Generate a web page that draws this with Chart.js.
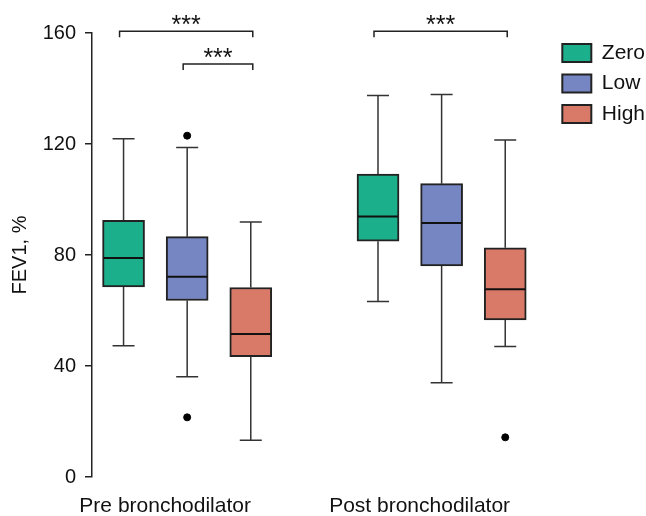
<!DOCTYPE html>
<html>
<head>
<meta charset="utf-8">
<script src="https://cdn.jsdelivr.net/npm/chart.js@4.4.1/dist/chart.umd.min.js"></script>
<style>
  html, body { margin: 0; padding: 0; background: #fff; }
  #wrap { width: 646px; height: 516px; }
</style>
</head>
<body>
<div id="wrap"><canvas id="myChart"></canvas></div>
<script>
const groups = ['Pre bronchodilator', 'Post bronchodilator'];
const levels = ['Zero', 'Low', 'High'];
const colors = ['#1caf8b', '#7686c3', '#d97968'];

// rows = levels (Zero, Low, High), columns = groups (Pre, Post)
const whiskerMin = [[47.3, 63.2], [36.1, 34.0], [13.2, 47.0]];
const quartile1  = [[68.5, 85.0], [63.6, 76.1], [43.4, 56.6]];
const medians    = [[78.9, 93.9], [72.2, 91.5], [51.5, 67.7]];
const quartile3  = [[92.5, 109.2], [86.6, 105.7], [68.3, 82.6]];
const whiskerMax = [[121.9, 137.5], [118.7, 137.8], [91.9, 121.4]];

// outliers: group index + value, per level
const outlierGroup = [[], [0, 0], [1]];
const outlierValue = [[], [123.0, 21.5], [14.3]];

// significance brackets
const sigGroup = [0, 0, 1];
const sigFrom = [0, 1, 0];
const sigTo = [2, 2, 2];
const sigHeight = [160.6, 148.8, 160.6];
const sigLabel = ['***', '***', '***'];

function xPos(g, l) {
    return g + 1 + (l - 1) * 0.25;
}

let datasets = levels.map(function(lev, l) {
    return {
        type: 'bar',
        label: lev,
        data: groups.map((grp, g) => ({ x: xPos(g, l), y: [quartile1[l][g], quartile3[l][g]] })),
        backgroundColor: colors[l],
        borderColor: '#222',
        borderWidth: 2,
        borderSkipped: false,
        barThickness: 42,
        grouped: false
    };
});

let outlierPoints = [];
levels.forEach(function(lev, l) {
    outlierGroup[l].forEach(function(g, i) {
        outlierPoints.push({ x: xPos(g, l), y: outlierValue[l][i] });
    });
});
datasets.push({
    type: 'scatter',
    label: 'outliers',
    data: outlierPoints,
    backgroundColor: '#000',
    borderColor: '#000',
    pointRadius: 3.5
});

// whiskers, caps and medians drawn on the library's scales
const boxParts = {
    id: 'boxParts',
    beforeDatasetsDraw(chart) {
        const { ctx, scales: { x, y } } = chart;
        ctx.save();
        ctx.strokeStyle = '#333';
        ctx.lineWidth = 1.5;
        levels.forEach(function(lev, l) {
            groups.forEach(function(grp, g) {
                const cx = x.getPixelForValue(xPos(g, l));
                const capHalf = 11;
                ctx.beginPath();
                ctx.moveTo(cx, y.getPixelForValue(whiskerMax[l][g]));
                ctx.lineTo(cx, y.getPixelForValue(quartile3[l][g]));
                ctx.moveTo(cx, y.getPixelForValue(whiskerMin[l][g]));
                ctx.lineTo(cx, y.getPixelForValue(quartile1[l][g]));
                ctx.moveTo(cx - capHalf, y.getPixelForValue(whiskerMax[l][g]));
                ctx.lineTo(cx + capHalf, y.getPixelForValue(whiskerMax[l][g]));
                ctx.moveTo(cx - capHalf, y.getPixelForValue(whiskerMin[l][g]));
                ctx.lineTo(cx + capHalf, y.getPixelForValue(whiskerMin[l][g]));
                ctx.stroke();
            });
        });
        ctx.restore();
    },
    afterDatasetsDraw(chart) {
        const { ctx, scales: { x, y } } = chart;
        ctx.save();
        ctx.strokeStyle = '#111';
        ctx.lineWidth = 2;
        levels.forEach(function(lev, l) {
            const meta = chart.getDatasetMeta(l);
            groups.forEach(function(grp, g) {
                const bar = meta.data[g];
                const half = bar.width / 2 - 1;
                const my = y.getPixelForValue(medians[l][g]);
                ctx.beginPath();
                ctx.moveTo(bar.x - half, my);
                ctx.lineTo(bar.x + half, my);
                ctx.stroke();
            });
        });
        ctx.restore();
    },
    afterDraw(chart) {
        const { ctx, scales: { x, y } } = chart;
        ctx.save();
        ctx.strokeStyle = '#222';
        ctx.lineWidth = 1.5;
        ctx.fillStyle = '#111';
        ctx.font = '25px "Liberation Sans", Arial, sans-serif';
        ctx.textAlign = 'center';
        ctx.textBaseline = 'alphabetic';
        sigGroup.forEach(function(g, i) {
            const x1 = x.getPixelForValue(xPos(g, sigFrom[i])) - 4;
            const x2 = x.getPixelForValue(xPos(g, sigTo[i])) + 2;
            const by = y.getPixelForValue(sigHeight[i]);
            ctx.beginPath();
            ctx.moveTo(x1, by + 6);
            ctx.lineTo(x1, by);
            ctx.lineTo(x2, by);
            ctx.lineTo(x2, by + 6);
            ctx.stroke();
            ctx.fillText(sigLabel[i], (x1 + x2) / 2, by + 2);
        });
        ctx.restore();
    }
};

Chart.defaults.font.family = '"Liberation Sans", Arial, sans-serif';
Chart.defaults.color = '#111';

new Chart("myChart", {
    data: { datasets: datasets },
    plugins: [boxParts],
    options: {
        responsive: true,
        maintainAspectRatio: false,
        animation: false,
        layout: { padding: { top: 33, left: 8, right: -9, bottom: 0 } },
        plugins: {
            tooltip: { enabled: false },
            legend: {
                position: 'right',
                align: 'start',
                labels: {
                    boxWidth: 29,
                    boxHeight: 18,
                    padding: 9.5,
                    font: { size: 21 },
                    color: '#111',
                    filter: item => item.datasetIndex < levels.length
                }
            }
        },
        scales: {
            x: {
                type: 'linear',
                offset: false,
                min: 0.626,
                max: 2.437,
                grid: { display: false, drawTicks: false, offset: false },
                border: { display: false },
                afterBuildTicks: s => { s.ticks = groups.map((grp, i) => ({ value: i + 1 })); },
                afterFit: s => { s.height = 39; },
                ticks: {
                    callback: (v, i) => groups[i],
                    labelOffset: -22,
                    padding: 17,
                    maxRotation: 0,
                    autoSkip: false,
                    font: { size: 21 },
                    color: '#111'
                }
            },
            y: {
                min: 0,
                max: 160,
                afterFit: s => { s.width = 84; },
                grid: {
                    drawOnChartArea: false,
                    drawTicks: true,
                    tickLength: 7,
                    color: '#222',
                    lineWidth: 1.5
                },
                border: { display: true, color: '#222', width: 1.5 },
                ticks: { stepSize: 40, padding: 9, font: { size: 20 }, color: '#111' },
                title: { display: true, text: 'FEV1, %', font: { size: 20 }, color: '#111', padding: 0 }
            }
        }
    }
});
</script>
</body>
</html>
